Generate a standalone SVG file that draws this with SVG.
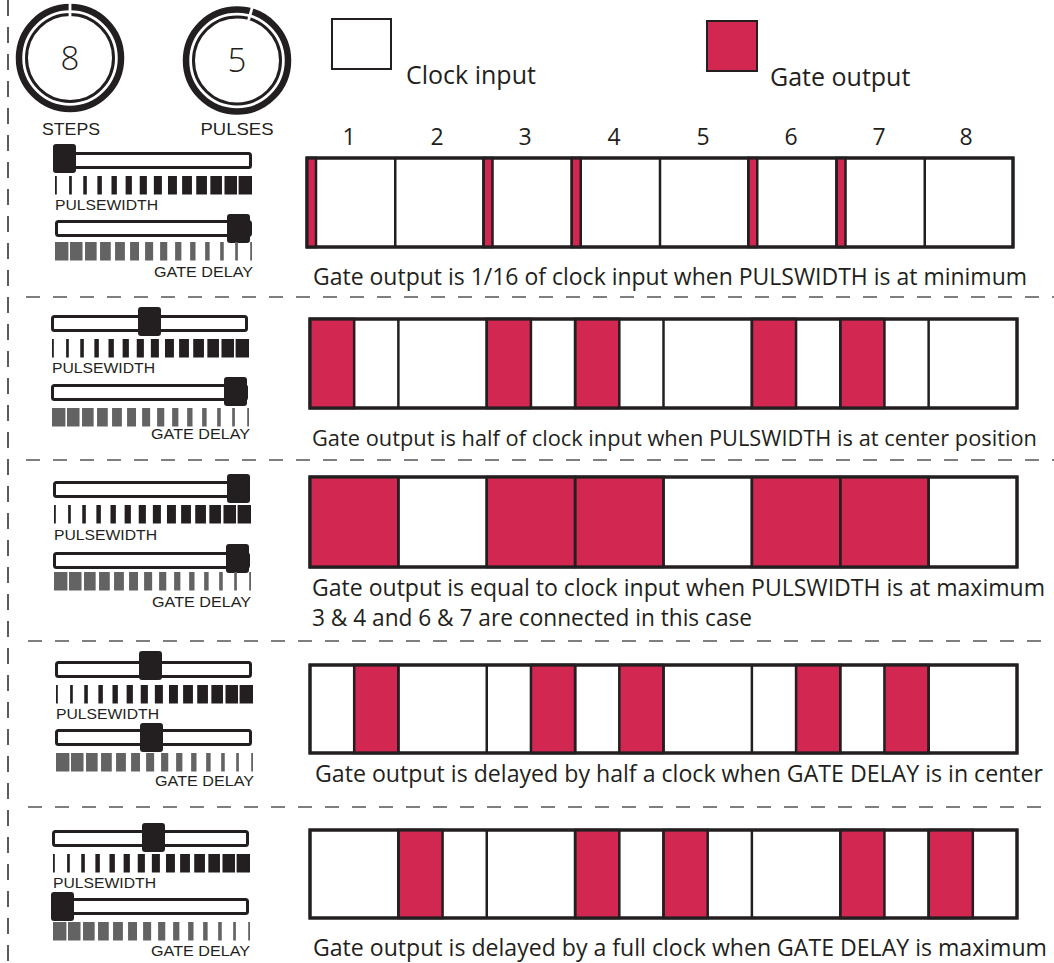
<svg xmlns="http://www.w3.org/2000/svg" xmlns:xlink="http://www.w3.org/1999/xlink" width="1054" height="963" viewBox="0 0 1054 963">
<style>
.bg{fill:#ffffff}
.cap{font-family:"Open Sans","Noto Sans","Liberation Sans",sans-serif;font-size:23px;fill:#231f20}
.num{font-family:"Open Sans","Noto Sans","Liberation Sans",sans-serif;font-size:23px;fill:#231f20;text-anchor:middle}
.knobnum{font-family:"Open Sans","Noto Sans","Liberation Sans",sans-serif;font-size:33px;font-weight:300;fill:#231f20;text-anchor:middle}
.lbl{font-family:"Liberation Sans",Arial,sans-serif;font-size:15.5px;fill:#231f20}
.klbl{font-family:"Liberation Sans",Arial,sans-serif;font-size:16.5px;fill:#231f20;text-anchor:middle}
.box{fill:#ffffff;stroke:#231f20;stroke-width:3}
.frame{fill:none;stroke:#231f20;stroke-width:3}
.div{fill:none;stroke:#231f20;stroke-width:2.5}
.gate{fill:#d12751;stroke:#231f20;stroke-width:2.5}
.track{fill:#ffffff;stroke:#231f20;stroke-width:3}
.thumb{fill:#231f20}
.pwt{fill:#231f20}
.gdt{fill:#636363}
.sep{fill:none;stroke:#555555;stroke-width:1.6;stroke-dasharray:14 13}
.vsep{fill:none;stroke:#333333;stroke-width:1.6;stroke-dasharray:16 11}
</style>
<defs>
<g id="pw">
<rect class="pwt" x="0" y="0" width="1.8" height="18.5"/>
<rect class="pwt" x="14.12" y="0" width="2.69" height="18.5"/>
<rect class="pwt" x="28.25" y="0" width="3.58" height="18.5"/>
<rect class="pwt" x="42.37" y="0" width="4.48" height="18.5"/>
<rect class="pwt" x="56.49" y="0" width="5.37" height="18.5"/>
<rect class="pwt" x="70.62" y="0" width="6.26" height="18.5"/>
<rect class="pwt" x="84.74" y="0" width="7.15" height="18.5"/>
<rect class="pwt" x="98.86" y="0" width="8.04" height="18.5"/>
<rect class="pwt" x="112.98" y="0" width="8.94" height="18.5"/>
<rect class="pwt" x="127.11" y="0" width="9.83" height="18.5"/>
<rect class="pwt" x="141.23" y="0" width="10.72" height="18.5"/>
<rect class="pwt" x="155.35" y="0" width="11.61" height="18.5"/>
<rect class="pwt" x="169.48" y="0" width="12.51" height="18.5"/>
<rect class="pwt" x="183.6" y="0" width="13.4" height="18.5"/>
</g>
<g id="gd">
<rect class="gdt" x="0" y="0" width="13.4" height="18.5"/>
<rect class="gdt" x="15.01" y="0" width="12.51" height="18.5"/>
<rect class="gdt" x="30.03" y="0" width="11.61" height="18.5"/>
<rect class="gdt" x="45.05" y="0" width="10.72" height="18.5"/>
<rect class="gdt" x="60.06" y="0" width="9.83" height="18.5"/>
<rect class="gdt" x="75.07" y="0" width="8.94" height="18.5"/>
<rect class="gdt" x="90.1" y="0" width="8.04" height="18.5"/>
<rect class="gdt" x="105.11" y="0" width="7.15" height="18.5"/>
<rect class="gdt" x="120.12" y="0" width="6.26" height="18.5"/>
<rect class="gdt" x="135.14" y="0" width="5.37" height="18.5"/>
<rect class="gdt" x="150.15" y="0" width="4.48" height="18.5"/>
<rect class="gdt" x="165.17" y="0" width="3.58" height="18.5"/>
<rect class="gdt" x="180.19" y="0" width="2.69" height="18.5"/>
<rect class="gdt" x="195.2" y="0" width="1.8" height="18.5"/>
</g>
<rect id="trk" class="track" x="1.5" y="1.5" width="194" height="14" rx="2"/>
<rect id="thm" class="thumb" x="0" y="0" width="23" height="29" rx="3"/>
</defs>
<rect class="bg" x="0" y="0" width="1054" height="963"/>

<g id="separators">
<line class="vsep" x1="8" y1="0" x2="8" y2="963"/>
<line class="sep" x1="26" y1="297" x2="1054" y2="297"/>
<line class="sep" x1="26" y1="460" x2="1054" y2="460"/>
<line class="sep" x1="28" y1="641" x2="1054" y2="641"/>
<line class="sep" x1="28" y1="807" x2="1054" y2="807"/>
</g>

<g id="knob-steps">
<circle cx="70" cy="58" r="51" fill="none" stroke="#231f20" stroke-width="6.5"/>
<circle cx="70" cy="58" r="43.5" fill="none" stroke="#231f20" stroke-width="3"/>
<rect x="68.6" y="3" width="2.8" height="13" fill="#ffffff"/>
<text class="knobnum" x="70" y="70">8</text>
<text class="klbl" x="71" y="135" textLength="58" lengthAdjust="spacingAndGlyphs">STEPS</text>
</g>
<g id="knob-pulses">
<circle cx="237" cy="60.5" r="51" fill="none" stroke="#231f20" stroke-width="6.5"/>
<circle cx="237" cy="60.5" r="43.5" fill="none" stroke="#231f20" stroke-width="3"/>
<rect x="235.6" y="5.5" width="2.8" height="13" fill="#ffffff" transform="rotate(16 237 60.5)"/>
<text class="knobnum" x="237" y="72">5</text>
<text class="klbl" x="237" y="135" textLength="73" lengthAdjust="spacingAndGlyphs">PULSES</text>
</g>

<g id="legend">
<rect x="332" y="19" width="59" height="50" fill="#ffffff" stroke="#231f20" stroke-width="2"/>
<text class="cap" x="406" y="84" style="font-size:25px">Clock input</text>
<rect x="707" y="21" width="50" height="50" fill="#d12751" stroke="#231f20" stroke-width="2"/>
<text class="cap" x="770" y="86" style="font-size:25px">Gate output</text>
</g>

<g id="step-numbers">
<text class="num" x="349" y="145">1</text>
<text class="num" x="437" y="145">2</text>
<text class="num" x="525" y="145">3</text>
<text class="num" x="614" y="145">4</text>
<text class="num" x="703" y="145">5</text>
<text class="num" x="791" y="145">6</text>
<text class="num" x="879" y="145">7</text>
<text class="num" x="966" y="145">8</text>
</g>

<!-- Row 1 -->
<g id="row1-controls">
<use href="#trk" x="55" y="152"/>
<use href="#thm" x="53" y="144"/>
<use href="#pw" x="55" y="176"/>
<text class="lbl" x="55" y="210" textLength="103" lengthAdjust="spacingAndGlyphs">PULSEWIDTH</text>
<use href="#trk" x="55" y="220"/>
<use href="#thm" x="227" y="214"/>
<use href="#gd" x="55" y="242"/>
<text class="lbl" x="253" y="277" text-anchor="end" textLength="99" lengthAdjust="spacingAndGlyphs">GATE DELAY</text>
</g>
<g id="row1-timeline">
<rect class="box" x="307" y="158" width="706" height="89"/>
<rect class="gate" x="307" y="158" width="9" height="89"/>
<rect class="gate" x="483.5" y="158" width="9" height="89"/>
<rect class="gate" x="571.75" y="158" width="9" height="89"/>
<rect class="gate" x="748.25" y="158" width="9" height="89"/>
<rect class="gate" x="836.5" y="158" width="9" height="89"/>
<path class="div" d="M395.25 158V247M483.5 158V247M571.75 158V247M660 158V247M748.25 158V247M836.5 158V247M924.75 158V247"/>
<rect class="frame" x="307" y="158" width="706" height="89"/>
<text class="cap" x="313" y="285" textLength="714" lengthAdjust="spacingAndGlyphs">Gate output is 1/16 of clock input when PULSWIDTH is at minimum</text>
</g>

<!-- Row 2 -->
<g id="row2-controls">
<use href="#trk" x="51" y="315"/>
<use href="#thm" x="138" y="307"/>
<use href="#pw" x="52" y="339"/>
<text class="lbl" x="52" y="373" textLength="103" lengthAdjust="spacingAndGlyphs">PULSEWIDTH</text>
<use href="#trk" x="51" y="384"/>
<use href="#thm" x="224" y="377"/>
<use href="#gd" x="52" y="408"/>
<text class="lbl" x="250" y="439" text-anchor="end" textLength="99" lengthAdjust="spacingAndGlyphs">GATE DELAY</text>
</g>
<g id="row2-timeline">
<rect class="box" x="310" y="319" width="707" height="89"/>
<rect class="gate" x="310" y="319" width="44.19" height="89"/>
<rect class="gate" x="486.75" y="319" width="44.19" height="89"/>
<rect class="gate" x="575.13" y="319" width="44.19" height="89"/>
<rect class="gate" x="751.88" y="319" width="44.19" height="89"/>
<rect class="gate" x="840.25" y="319" width="44.19" height="89"/>
<path class="div" d="M398.38 319V408M486.75 319V408M575.13 319V408M663.5 319V408M751.88 319V408M840.25 319V408M928.63 319V408"/>
<rect class="frame" x="310" y="319" width="707" height="89"/>
<text class="cap" x="312" y="446" style="font-size:21.8px" textLength="725" lengthAdjust="spacingAndGlyphs">Gate output is half of clock input when PULSWIDTH is at center position</text>
</g>

<!-- Row 3 -->
<g id="row3-controls">
<use href="#trk" x="53" y="481"/>
<use href="#thm" x="227" y="474"/>
<use href="#pw" x="54" y="505"/>
<text class="lbl" x="54" y="540" textLength="103" lengthAdjust="spacingAndGlyphs">PULSEWIDTH</text>
<use href="#trk" x="53" y="552"/>
<use href="#thm" x="226" y="544"/>
<use href="#gd" x="54" y="572"/>
<text class="lbl" x="251" y="607" text-anchor="end" textLength="99" lengthAdjust="spacingAndGlyphs">GATE DELAY</text>
</g>
<g id="row3-timeline">
<rect class="box" x="310" y="477" width="707" height="90"/>
<rect class="gate" x="310" y="477" width="88.38" height="90"/>
<rect class="gate" x="486.75" y="477" width="88.38" height="90"/>
<rect class="gate" x="575.13" y="477" width="88.38" height="90"/>
<rect class="gate" x="751.88" y="477" width="88.38" height="90"/>
<rect class="gate" x="840.25" y="477" width="88.38" height="90"/>
<path class="div" d="M398.38 477V567M486.75 477V567M575.13 477V567M663.5 477V567M751.88 477V567M840.25 477V567M928.63 477V567"/>
<rect class="frame" x="310" y="477" width="707" height="90"/>
<text class="cap" x="312" y="596" textLength="733" lengthAdjust="spacingAndGlyphs">Gate output is equal to clock input when PULSWIDTH is at maximum</text>
<text class="cap" x="312" y="626" textLength="440" lengthAdjust="spacingAndGlyphs">3 &amp; 4 and 6 &amp; 7 are connected in this case</text>
</g>

<!-- Row 4 -->
<g id="row4-controls">
<use href="#trk" x="55" y="661"/>
<use href="#thm" x="139" y="651"/>
<use href="#pw" x="56" y="685"/>
<text class="lbl" x="56" y="719" textLength="103" lengthAdjust="spacingAndGlyphs">PULSEWIDTH</text>
<use href="#trk" x="55" y="729"/>
<use href="#thm" x="140" y="723"/>
<use href="#gd" x="56" y="753"/>
<text class="lbl" x="254" y="786" text-anchor="end" textLength="99" lengthAdjust="spacingAndGlyphs">GATE DELAY</text>
</g>
<g id="row4-timeline">
<rect class="box" x="310" y="665" width="707" height="88"/>
<rect class="gate" x="354.19" y="665" width="44.19" height="88"/>
<rect class="gate" x="530.94" y="665" width="44.19" height="88"/>
<rect class="gate" x="619.31" y="665" width="44.19" height="88"/>
<rect class="gate" x="796.06" y="665" width="44.19" height="88"/>
<rect class="gate" x="884.44" y="665" width="44.19" height="88"/>
<path class="div" d="M398.38 665V753M486.75 665V753M575.13 665V753M663.5 665V753M751.88 665V753M840.25 665V753M928.63 665V753"/>
<rect class="frame" x="310" y="665" width="707" height="88"/>
<text class="cap" x="315" y="782" textLength="728" lengthAdjust="spacingAndGlyphs">Gate output is delayed by half a clock when GATE DELAY is in center</text>
</g>

<!-- Row 5 -->
<g id="row5-controls">
<use href="#trk" x="52" y="830"/>
<use href="#thm" x="142" y="823"/>
<use href="#pw" x="53" y="854"/>
<text class="lbl" x="53" y="888" textLength="103" lengthAdjust="spacingAndGlyphs">PULSEWIDTH</text>
<use href="#trk" x="52" y="898"/>
<use href="#thm" x="51" y="892"/>
<use href="#gd" x="53" y="922"/>
<text class="lbl" x="250" y="956" text-anchor="end" textLength="99" lengthAdjust="spacingAndGlyphs">GATE DELAY</text>
</g>
<g id="row5-timeline">
<rect class="box" x="310" y="830" width="707" height="88"/>
<rect class="gate" x="398.38" y="830" width="44.19" height="88"/>
<rect class="gate" x="575.13" y="830" width="44.19" height="88"/>
<rect class="gate" x="663.5" y="830" width="44.19" height="88"/>
<rect class="gate" x="840.25" y="830" width="44.19" height="88"/>
<rect class="gate" x="928.63" y="830" width="44.19" height="88"/>
<path class="div" d="M398.38 830V918M486.75 830V918M575.13 830V918M663.5 830V918M751.88 830V918M840.25 830V918M928.63 830V918"/>
<rect class="frame" x="310" y="830" width="707" height="88"/>
<text class="cap" x="313" y="956" textLength="734" lengthAdjust="spacingAndGlyphs">Gate output is delayed by a full clock when GATE DELAY is maximum</text>
</g>
</svg>
